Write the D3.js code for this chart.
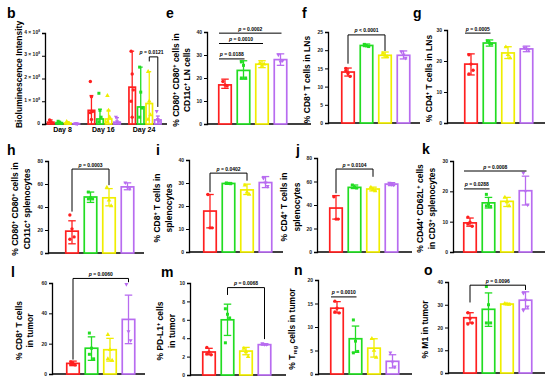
<!DOCTYPE html>
<html><head><meta charset="utf-8">
<script src="https://cdn.jsdelivr.net/npm/d3@7"></script>
<style>body{margin:0;background:#fff}text{font-family:"Liberation Sans",Arial,sans-serif}</style>
</head><body><svg id="c" width="554" height="384"></svg>
<script>
// ---------------- DATA ----------------
const groups = ["G1","G2","G3","G4"];
const colors = ["#ff1f1f","#22dd22","#f0ee00","#b86cf0"];

// panel b (units of 1e8)
const bDays = ["Day 8","Day 16","Day 24"];
const bMean = [[0.08,0.06,0.04,0.01],[0.6,0.22,0.22,0.08],[1.62,0.75,0.9,0.18]];
const bHi   = [[0.18,0.12,0.1,0.02],[1.25,0.65,0.6,0.28],[3.2,2.5,2.3,0.35]];
const bPts  = [
  [[0.18,0.1,0.05],[0.12,0.06,0.03],[0.1,0.04,0.02],[0.02,0.01,0.0]],
  [[1.87,1.2,0.55,0.5,0.2],[1.35,0.6,0.3,0.1],[1.25,0.6,0.3,0.1],[0.3,0.1,0.05]],
  [[3.2,2.2,1.5,1.0,0.3],[2.5,1.4,0.7,0.3],[2.3,1.0,0.4,0.2],[0.55,0.2,0.1]]
];
const bTicks = [0,1,2,3,4];
const bTickLabels = ["0","1 × 10^{8}","2 × 10^{8}","3 × 10^{8}","4 × 10^{8}"];
const bBracket = [2, 2, 3, 2.95, 2.75, 0.75, "p = 0.0121"]; // day, groupA, groupB, level, dropA, dropB, label

// panels e..o : mean, low, high, points, ticks, brackets [a,b,level,dropA,dropB,label,style]
const eMean=[17,23.3,26,28], eLo=[15.5,19.5,24.5,25.5], eHi=[19.5,27.5,27.5,30.5];
const ePts=[[18.5,17,16.5],[27,25.5,20,20],[26.5,25.5,26],[30,27,27.5]];
const eTicks=[0,10,20,30,40];
const eBr=[[0,1,28.3,0,0,"p = 0.0188","line"],[0,2,35,0,0,"p = 0.0010","line"],[0,3,39.5,0,0,"p = 0.0002","line"]];

const fMean=[14,21.3,18.6,18.6], fLo=[12.9,21,17.9,17.6], fHi=[15.1,21.7,19.5,19.8];
const fPts=[[15,13.6,12.8,14.4],[21.6,21.2,21],[19.1,18.6,18.2],[19.5,18.7,17.8]];
const fTicks=[0,5,10,15,20,25];
const fBr=[[0,2,24.2,16.3,19.8,"p < 0.0001","brk"]];

const gMean=[19,25.8,22.6,23.9], gLo=[15.5,24.8,20.8,23], gHi=[22.3,26.8,24.6,24.8];
const gPts=[[22,19,17,15.8],[26.5,25.8,25.5],[24.5,22,21],[24.2,23.8,23.5]];
const gTicks=[0,10,20,30];
const gBr=[[0,1,29,0,0,"p = 0.0005","line"]];

const hMean=[19,48.7,48,57.5], hLo=[8,44,41,55], hHi=[28,53,56,61];
const hPts=[[33,21,14,12],[53,48,47,47],[57,46,41],[61,57,56]];
const hTicks=[0,20,40,60,80];
const hBr=[[0,2,73,36,59,"p = 0.0003","brk"]];

const iMean=[17.8,29.8,27,30.2], iLo=[10.5,29.4,25,28], iHi=[25,30.2,29.5,32.8];
const iPts=[[25,10.5,10.5],[30,29.8,29.7],[29,26,25],[32,30,28.5]];
const iTicks=[0,10,20,30,40];
const iBr=[[0,2,34.3,26,31,"p = 0.0402","brk"]];

const jMean=[37.4,55,53.6,57.8], jLo=[28,54,52,56.5], jHi=[48,57,55.2,59];
const jPts=[[47,28,28],[57,55,54.5],[55,53,52],[58.5,57.5,57]];
const jTicks=[0,20,40,60,80];
const jBr=[[0,2,70.6,50,64,"p = 0.0104","brk"]];

const kMean=[9.6,16.2,16.7,20.2], kLo=[8.5,14.5,15,15.5], kHi=[11.2,18,18,25];
const kPts=[[11.5,9.8,8.5,9.2],[19,16,15,15.2],[18,16.5,15.2],[26,20,15.5]];
const kTicks=[0,10,20,30];
const kBr=[[0,1,20.8,0,0,"p = 0.0288","line"],[0,3,26.7,0,0,"p = 0.0008","line"]];

const lMean=[7,17,16,36], lLo=[5.5,9,8.5,20], lHi=[8.5,24.5,23.5,52];
const lPts=[[8,7,6,6.5],[27,17,10,13],[26,16,9,10],[59,28,22]];
const lTicks=[0,20,40,60];
const lBr=[[0,3,63,9.5,60.5,"p = 0.0060","brk"]];

const mMean=[2.5,6.0,2.6,3.3], mLo=[2.2,4.3,2.2,3.25], mHi=[2.9,7.7,3.0,3.4];
const mPts=[[3.0,2.5,2.2,2.3],[7.2,6.6,6.2,3.5],[2.9,2.5,2.0],[3.4,3.3,3.3]];
const mTicks=[0,2,4,6,8,10];
const mBr=[[1,3,9.5,8.7,3.9,"p = 0.0068","brk"]];

const nMean=[14,7.5,5.5,2.7], nLo=[13,4.6,3.6,1.3], nHi=[15.4,10.2,7.5,4.1];
const nPts=[[15.5,14,13,13.2],[11.5,7,4.8,4.5],[7.5,5,3.5],[4.5,2.5,1.5]];
const nTicks=[0,5,10,15,20];
const nBr=[[0,1,16.4,0,0,"p = 0.0010","line"]];

const oMean=[24.3,28,30.3,32], oLo=[22,20.5,30,28.2], oHi=[26.5,35.2,30.6,35.7];
const oPts=[[26.5,24,22,21.5],[38,30,22,22],[30.5,30.3,30.1],[35,32,29,27.5]];
const oTicks=[0,10,20,30,40];
const oBr=[[0,3,38.6,31,36.5,"p = 0.0096","brk"]];

// axis titles
const titles = {
  b:["Bioluminescence Intensity"],
  e:["% CD80^{+} CD80^{+} cells in","CD11c^{+} LN cells"],
  f:["% CD8^{+} T cells in LNs"],
  g:["% CD4^{+} T cells in LNs"],
  h:["% CD80^{+} CD80^{+} cells in","CD11c^{+} splenocytes"],
  i:["% CD8^{+} T cells in","splenocytes"],
  j:["% CD4^{+} T cells in","splenocytes"],
  k:["% CD44^{+} CD62L^{+} cells","in CD3^{+} splenocytes"],
  l:["% CD8^{+} T cells","in tumor"],
  m:["% PD-L1^{+} cells","in tumor"],
  n:["% T_{reg} cells in tumor"],
  o:["% M1  in tumor"]
};

// ---------------- DRAW ----------------
const svg = d3.select("#c");
const shapes = [d3.symbolCircle, d3.symbolSquare, d3.symbolTriangle, "inv"];
function sym(k, size){
  if (shapes[k]==="inv") return "M-2,-1.4L2,-1.4L0,2.2Z";
  return d3.symbol().type(shapes[k]).size(size)();
}
function rich(t, str, fs){
  const parts = str.split(/(\^\{[^}]*\}|_\{[^}]*\})/).filter(s=>s.length);
  let shift = 0;
  parts.forEach(p=>{
    const ts = t.append("tspan");
    if (p.startsWith("^{")) { ts.text(p.slice(2,-1)).attr("font-size",fs*0.65).attr("dy",-fs*0.38-shift); shift=-fs*0.38; }
    else if (p.startsWith("_{")) { ts.text(p.slice(2,-1)).attr("font-size",fs*0.65).attr("dy",fs*0.25-shift); shift=fs*0.25; }
    else { ts.text(p).attr("dy",-shift); shift=0; }
  });
}
function letter(ch, x, y){
  svg.append("text").attr("x",x).attr("y",y).attr("font-size",14).attr("font-weight","bold").text(ch);
}
function ytitle(lines, ax, offs, cy, fs){
  lines.forEach((ln,i)=>{
    const t = svg.append("text").attr("transform",`translate(${ax+offs[i]},${cy}) rotate(-90)`)
      .attr("text-anchor","middle").attr("dy","0.35em").attr("font-size",fs).attr("font-weight","bold");
    rich(t, ln, fs);
  });
}
function pText(x, y, label){
  const t = svg.append("text").attr("x",x).attr("y",y).attr("text-anchor","middle")
    .attr("font-size",5).attr("font-weight","bold");
  t.append("tspan").attr("font-style","italic").text(label.slice(0,1));
  t.append("tspan").text(label.slice(1));
}
function yAxis(y, ax, ticks, labels){
  const g = svg.append("g").attr("transform",`translate(${ax},0)`);
  g.call(d3.axisLeft(y).tickValues(ticks).tickSize(3).tickPadding(2).tickFormat((d,i)=>labels?"":d));
  g.select(".domain").attr("stroke","#000").attr("stroke-width",1.3);
  g.selectAll(".tick line").attr("stroke","#000").attr("stroke-width",1);
  g.selectAll(".tick text").attr("font-size",5).attr("font-weight","bold").attr("fill","#222")
    .attr("font-family","Liberation Sans, Arial, sans-serif");
  if (labels) {
    g.selectAll(".tick text").each(function(d,i){ rich(d3.select(this), labels[i], 5); });
  }
}
function bars(x, y, cx, w, mean, lo, hi, pts){
  mean.forEach((m,k)=>{
    const c = colors[k], xc = cx(k);
    svg.append("rect").attr("x",xc-w/2).attr("y",y(m)).attr("width",w).attr("height",y(0)-y(m))
      .attr("fill","#fff").attr("stroke",c).attr("stroke-width",1.7);
    const l = Math.max(0, lo[k]);
    svg.append("line").attr("x1",xc).attr("x2",xc).attr("y1",y(l)).attr("y2",y(hi[k])).attr("stroke",c).attr("stroke-width",1.3);
    [l, hi[k]].forEach(v=>{
      if (v<=0) return;
      svg.append("line").attr("x1",xc-w*0.3).attr("x2",xc+w*0.3).attr("y1",y(v)).attr("y2",y(v)).attr("stroke",c).attr("stroke-width",1.3);
    });
    pts[k].forEach((v,j)=>{
      const jit = ((j%3)-1)*w*0.17;
      svg.append("path").attr("d",sym(k, 9)).attr("transform",`translate(${xc+jit},${y(v)})`).attr("fill",c);
    });
  });
}

const TFS = 8.5;

// Panel b
(function(){
  const ax=45, top=33, bot=124;
  const y = d3.scaleLinear().domain([0,4]).range([bot,top]);
  const xd = d3.scalePoint().domain(bDays).range([63.5,145]);
  const xi = d3.scaleLinear().domain([0,3]).range([-12.8,12.8]);
  svg.append("line").attr("x1",ax).attr("x2",167).attr("y1",bot).attr("y2",bot).attr("stroke","#000").attr("stroke-width",1.3);
  bDays.forEach((d,di)=>{
    const cx = k=>xd(d)+xi(k);
    bars(null, y, cx, 6.5, bMean[di], bMean[di].map(v=>0), bHi[di], bPts[di]);
    svg.append("text").attr("x",xd(d)-1).attr("y",131.5).attr("text-anchor","middle").attr("font-size",7)
      .attr("font-weight","bold").text(d);
  });
  yAxis(y, ax, bTicks, bTickLabels);
  const [di,a,b,lev,da,db,lab] = bBracket;
  const xa = xd(bDays[di])+xi(a), xb = xd(bDays[di])+xi(b);
  svg.append("path").attr("d",`M${xa},${y(da)}V${y(lev)}H${xb}V${y(db)}`).attr("fill","none").attr("stroke","#000").attr("stroke-width",1);
  pText((xa+xb)/2-2, y(lev)-3, lab);
  ytitle(titles.b, ax, [-23], (top+bot)/2 - 4, TFS);
  letter("b", 7, 18);
})();

const layout = {
 e:{ax:207, top:32, bot:124, x0:225, end:311, lab:[-28,-17], L:[166,18]},
 f:{ax:328, top:32, bot:123, x0:348, end:420, lab:[-18], L:[302,18]},
 g:{ax:447, top:30, bot:123, x0:471, end:545, lab:[-15], L:[413,18]},
 h:{ax:48, top:161, bot:253, x0:72, end:144, lab:[-30,-18], L:[7,155]},
 i:{ax:189, top:160, bot:252, x0:210, end:283, lab:[-29,-17], L:[156,155]},
 j:{ax:317, top:158, bot:252, x0:336, end:412, lab:[-30,-17], L:[296,155]},
 k:{ax:453, top:161, bot:252, x0:470, end:545, lab:[-30,-18], L:[422,154]},
 l:{ax:52, top:283, bot:374, x0:73, end:145, lab:[-30,-19], L:[11,277]},
 m:{ax:190, top:283, bot:375, x0:209, end:286, lab:[-27,-15], L:[161,277]},
 n:{ax:318, top:280, bot:374, x0:337, end:412, lab:[-23], L:[294,275]},
 o:{ax:448, top:282, bot:373, x0:470, end:545, lab:[-20], L:[424,275]}
};
const pdata = {
 e:[eMean,eLo,eHi,ePts,eTicks,eBr], f:[fMean,fLo,fHi,fPts,fTicks,fBr], g:[gMean,gLo,gHi,gPts,gTicks,gBr],
 h:[hMean,hLo,hHi,hPts,hTicks,hBr], i:[iMean,iLo,iHi,iPts,iTicks,iBr], j:[jMean,jLo,jHi,jPts,jTicks,jBr],
 k:[kMean,kLo,kHi,kPts,kTicks,kBr], l:[lMean,lLo,lHi,lPts,lTicks,lBr], m:[mMean,mLo,mHi,mPts,mTicks,mBr],
 n:[nMean,nLo,nHi,nPts,nTicks,nBr], o:[oMean,oLo,oHi,oPts,oTicks,oBr]
};
Object.keys(layout).forEach(id=>{
  const L = layout[id], [mean,lo,hi,pts,ticks,brs] = pdata[id];
  const y = d3.scaleLinear().domain([0, d3.max(ticks)]).range([L.bot, L.top]);
  const x = d3.scalePoint().domain(groups).range([L.x0, L.x0+55.5]);
  const cx = k=>x(groups[k]);
  svg.append("line").attr("x1",L.ax).attr("x2",L.end).attr("y1",L.bot).attr("y2",L.bot).attr("stroke","#000").attr("stroke-width",1.3);
  bars(x, y, cx, 12.5, mean, lo, hi, pts);
  yAxis(y, L.ax, ticks, null);
  brs.forEach(([a,b,lev,da,db,lab,st])=>{
    const xa=cx(a), xb=cx(b);
    if (st==="line") {
      svg.append("line").attr("x1",xa-6).attr("x2",xb+1).attr("y1",y(lev)).attr("y2",y(lev)).attr("stroke","#000").attr("stroke-width",1);
      pText((xa-6+xb+1)/2, y(lev)-2.5, lab);
    } else {
      svg.append("path").attr("d",`M${xa},${y(da)}V${y(lev)}H${xb}V${y(db)}`).attr("fill","none").attr("stroke","#000").attr("stroke-width",1);
      pText((xa+xb)/2, y(lev)-2.5, lab);
    }
  });
  ytitle(titles[id], L.ax, L.lab, (L.top+L.bot)/2 + 2, TFS);
  letter(id, L.L[0], L.L[1]);
});
</script></body></html>
